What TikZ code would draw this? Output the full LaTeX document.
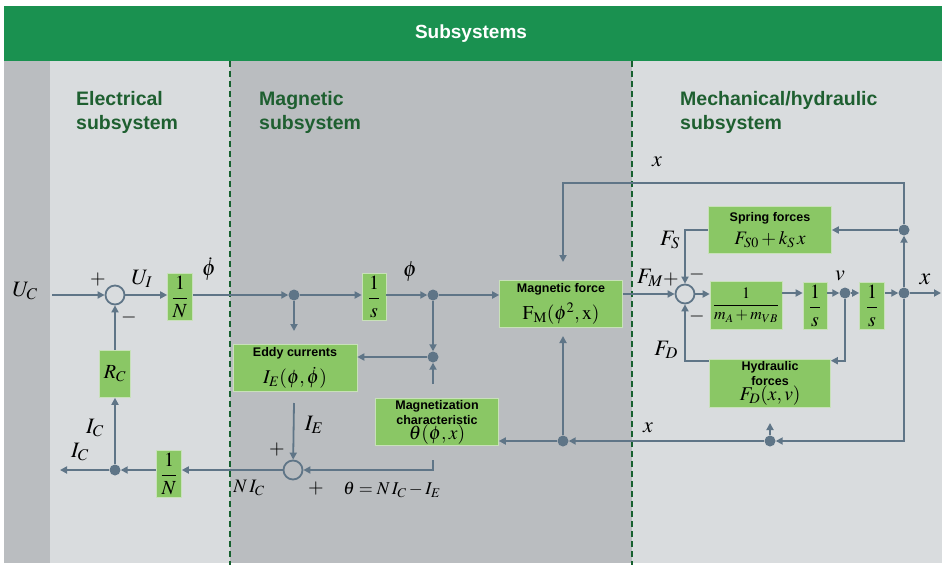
\documentclass[tikz,border=0pt]{standalone}
\usepackage{amsmath}
\usepackage{mathptmx}
\usepackage[no-math]{fontspec}
\setmainfont{Liberation Serif}
\setsansfont{Liberation Sans}
\usetikzlibrary{arrows.meta,positioning,calc}
\definecolor{bannergreen}{RGB}{26,145,80}
\definecolor{headgreen}{RGB}{30,95,48}
\definecolor{dashgreen}{RGB}{22,97,47}
\definecolor{stripgrey}{RGB}{186,189,192}
\definecolor{lightgrey}{RGB}{217,220,222}
\definecolor{midgrey}{RGB}{186,189,192}
\definecolor{linegrey}{RGB}{95,117,135}
\definecolor{boxgreen}{RGB}{138,199,101}
\definecolor{boxedge}{RGB}{200,225,185}
\newcommand{\blkhead}[1]{{\sffamily\bfseries\fontsize{12.5}{15}\selectfont #1}}
\newcommand{\blkmath}[1]{{\fontsize{19.5}{20}\selectfont $#1$}}

\begin{document}
\begin{tikzpicture}[x=1pt,y=-1pt,
  sig/.style={draw=linegrey,line width=1.8pt},
  arr/.style={sig,-{Triangle[length=7pt,width=7pt]}},
  blk/.style={fill=boxgreen,draw=boxedge,line width=0.6pt,inner sep=1pt,align=center},
  frac/.style={blk,minimum width=25pt,minimum height=47pt,font=\fontsize{20}{22}\selectfont},
  wide/.style={blk,minimum width=123pt,minimum height=47pt,font=\fontsize{12}{15}\selectfont},
  sum/.style={circle,draw=linegrey,line width=1.8pt,minimum size=19pt,inner sep=0pt},
  dot/.style={circle,fill=linegrey,minimum size=11pt,inner sep=0pt},
  lbl/.style={font=\fontsize{22}{24}\selectfont,inner sep=0pt},
  sgn/.style={font=\fontsize{20}{22}\selectfont,inner sep=0pt},
  head/.style={font=\sffamily\bfseries\fontsize{19.5}{24}\selectfont,text=headgreen,align=left,anchor=west,inner sep=0pt},
  divider/.style={draw=dashgreen,line width=2.4pt,dash pattern=on 6pt off 4pt}]
\useasboundingbox (0,0) rectangle (942,565);
\fill[bannergreen] (4,6) rectangle (942,61);
\fill[stripgrey] (4,61) rectangle (50,563);
\fill[lightgrey] (50,61) rectangle (230,563);
\fill[midgrey] (230,61) rectangle (632,563);
\fill[lightgrey] (632,61) rectangle (942,563);
\draw[divider] (230,61) -- (230,565);
\draw[divider] (632,61) -- (632,565);
\node[font=\sffamily\bfseries\fontsize{19}{22}\selectfont,text=white] (title) at (471,34) {Subsystems};
\node[head] (hel) at (76,112) {Electrical\\subsystem};
\node[head] (hmg) at (259,112) {Magnetic\\subsystem};
\node[head] (hme) at (680,112) {Mechanical/hydraulic\\subsystem};

\coordinate (uc) at (52,295);
\node[sum] (sum1) at (115,295) {};
\node[frac] (nA) at (180,297) {$\dfrac{1}{N}$};
\node[frac,minimum width=31pt] (rc) at (115,374) {$R_C$};
\node[dot] (dotI) at (115,470) {};
\coordinate (icout) at (60,470);
\node[frac] (nB) at (169,474) {$\dfrac{1}{N}$};

\node[dot] (dotA) at (294,295) {};
\coordinate (eddyin) at (294,331);
\node[frac,minimum width=24pt] (s1) at (374,297) {$\dfrac{1}{s}$};
\node[dot] (dotB) at (433,295) {};
\node[dot] (dotC) at (433,357) {};
\coordinate (magup) at (433,384);
\node[wide,minimum width=124pt] (eddy) at (295,368) {\blkhead{Eddy currents}\\[7pt]\blkmath{I_E(\phi,\dot{\phi})}};
\coordinate (eddyout) at (294,403);
\node[sum] (sum2) at (293,470) {};
\coordinate (magout) at (433,460);
\node[wide] (magn) at (437,422) {\blkhead{Magnetization}\\\blkhead{characteristic}\\\blkmath{\theta(\phi,x)}};
\node[wide] (force) at (561,304) {\blkhead{Magnetic force}\\[7pt]\blkmath{\mathrm{F}_{\mathrm{M}}(\phi^2,\mathrm{x})}};
\coordinate (fdown) at (563,262);
\coordinate (fup) at (563,336);
\coordinate (xtop) at (563,183);

\node[sum] (sum3) at (685,294) {};
\node[wide] (spring) at (770,230) {\blkhead{Spring forces}\\[6pt]{\fontsize{19}{20}\selectfont $F_{S0}+k_S\,x$}};
\node[dot] (dotD) at (904,230) {};
\node[blk,minimum width=72pt,minimum height=48pt,font=\fontsize{16}{18}\selectfont] (mass) at (746,305) {$\dfrac{1}{m_A+m_{VB}}$};
\node[frac,minimum width=24pt] (s2) at (815,306) {$\dfrac{1}{s}$};
\node[dot] (dotV) at (845,293) {};
\node[frac] (s3) at (872,306) {$\dfrac{1}{s}$};
\node[dot] (dotX) at (904,293) {};
\coordinate (xout) at (941,293);
\node[wide,minimum width=121pt,minimum height=48pt] (hydro) at (770,383) {\blkhead{Hydraulic}\\\blkhead{forces}\\\blkmath{F_D(x,v)}};
\node[dot] (dotE) at (770,441) {};
\coordinate (eup) at (770,423);
\node[dot] (dotF) at (563,441) {};

\draw[arr] (uc) -- (sum1);
\draw[arr] (sum1) -- (sum1 -| nA.west);
\draw[arr] (nA.east |- dotA) -- (dotA);
\draw[arr] (dotA) -- (dotA -| s1.west);
\draw[arr] (dotA) -- (eddyin);
\draw[arr] (s1.east |- dotB) -- (dotB);
\draw[arr] (dotB) -- (dotB -| force.west);
\draw[arr] (dotB) -- (dotC);
\draw[arr] (magup) -- (dotC);
\draw[arr] (dotC) -- (dotC -| eddy.east);
\draw[arr] (eddyout) -- (sum2);
\draw[arr] (magout) |- (sum2);
\draw[arr] (sum2) -- (sum2 -| nB.east);
\draw[arr] (nB.west |- dotI) -- (dotI);
\draw[arr] (dotI) -- (icout);
\draw[arr] (dotI) -- (rc);
\draw[arr] (rc) -- (sum1);

\draw[arr] (force.east |- sum3) -- (sum3);
\draw[arr] (spring.west) -| (sum3);
\draw[arr] (dotD) -- (spring.east);
\draw[arr] (dotX) -- (dotD);
\draw[arr] (dotD) |- (xtop) -- (fdown);
\draw[arr] (sum3) -- (sum3 -| mass.west);
\draw[arr] (mass.east |- dotV) -- (dotV -| s2.west);
\draw[arr] (s2.east |- dotV) -- (dotV);
\draw[arr] (dotV) -- (dotV -| s3.west);
\draw[arr] (s3.east |- dotX) -- (dotX);
\draw[arr] (dotX) -- (xout);
\draw[arr] (dotV) |- ([yshift=-2pt]hydro.north east);
\draw[arr] ([yshift=-2pt]hydro.north west) -| (sum3);
\draw[arr] (dotX) |- (dotE);
\draw[arr] (dotE) -- (eup);
\draw[arr] (dotE) -- (dotF);
\draw[arr] (dotF) -- (fup);
\draw[arr] (dotF) -- (dotF -| magn.east);

\node[lbl] (lUC) at (25,291) {$U_C$};
\node[sgn] (p1) at (98,279) {$+$};
\node[sgn] (m1) at (129,317) {$-$};
\node[lbl] (lUI) at (142,279) {$U_I$};
\node[lbl] (lphid) at (209,269) {$\dot{\phi}$};
\node[lbl] (lIC1) at (95,428) {$I_C$};
\node[lbl] (lIC2) at (80,452) {$I_C$};
\node[lbl,font=\fontsize{19}{21}\selectfont] (lNIC) at (249,488) {$N\,I_C$};
\node[lbl] (lphi) at (410,272) {$\phi$};
\node[lbl] (lIE) at (314,425) {$I_E$};
\node[sgn] (p2) at (277,449) {$+$};
\node[sgn] (p3) at (316,488) {$+$};
\node[lbl,font=\fontsize{18}{20}\selectfont] (ltheta) at (392,490) {$\theta=N\,I_C-I_E$};
\node[lbl] (lx1) at (657,162) {$x$};
\node[lbl] (lFS) at (670,240) {$F_S$};
\node[lbl] (lFM) at (650,278) {$F_M$};
\node[sgn] (p4) at (671,280) {$+$};
\node[sgn] (m2) at (697,274) {$-$};
\node[sgn] (m3) at (697,316) {$-$};
\node[lbl] (lFD) at (666,350) {$F_D$};
\node[lbl] (lv) at (840,276) {$v$};
\node[lbl,font=\fontsize{24}{26}\selectfont] (lx2) at (925,279) {$x$};
\node[lbl] (lx3) at (648,428) {$x$};
\end{tikzpicture}
\end{document}
